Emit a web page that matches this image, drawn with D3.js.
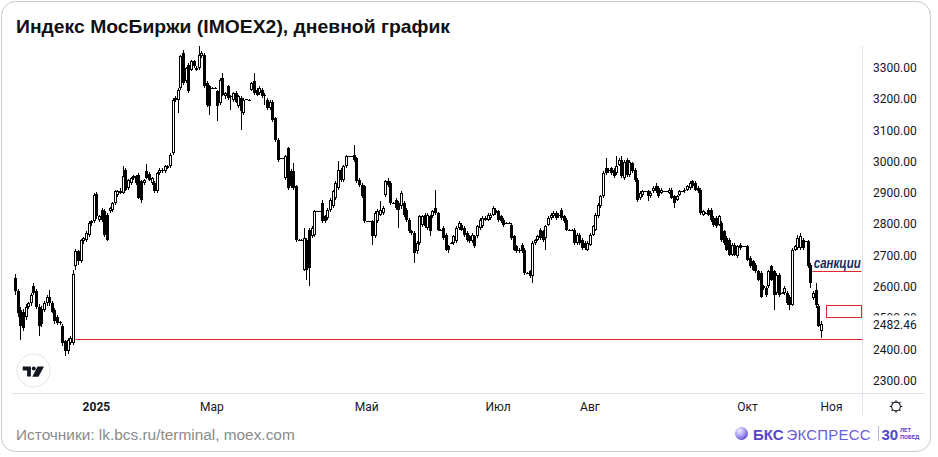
<!DOCTYPE html>
<html>
<head>
<meta charset="utf-8">
<script src="https://cdn.jsdelivr.net/npm/d3@7"></script>
<style>
  html, body { margin: 0; padding: 0; background: #fff; }
  svg { display: block; font-family: Roboto, "Liberation Sans", Arial, sans-serif; }
</style>
</head>
<body>
<svg id="chart" width="938" height="457"></svg>
<script>
// дневные свечи IMOEX2: [open, high, low, close]
const candles = [
  [2628,2640,2575,2585],[2585,2592,2505,2516],[2527,2535,2430,2474],[2520,2530,2460,2468],
  [2505,2545,2495,2537],[2537,2553,2530,2548],[2548,2580,2540,2575],[2601,2612,2575,2580],
  [2585,2592,2530,2537],[2537,2545,2442,2474],[2530,2538,2470,2480],[2527,2555,2520,2548],
  [2548,2575,2540,2569],[2569,2591,2540,2548],[2548,2556,2515,2521],[2527,2532,2480,2490],
  [2505,2510,2478,2484],[2484,2492,2478,2486],[2476,2482,2412,2420],[2426,2430,2378,2394],
  [2394,2436,2385,2431],[2420,2442,2415,2436],[2420,2655,2415,2641],[2665,2720,2655,2713],
  [2713,2718,2670,2681],[2681,2752,2675,2750],[2745,2760,2738,2756],[2750,2778,2744,2772],
  [2766,2810,2760,2804],[2804,2815,2795,2809],[2809,2900,2805,2894],[2897,2903,2818,2825],
  [2814,2830,2808,2825],[2846,2852,2808,2814],[2841,2848,2760,2766],[2830,2836,2745,2750],
  [2841,2856,2836,2852],[2846,2872,2840,2868],[2868,2910,2862,2905],[2894,2910,2888,2905],
  [2905,2915,2896,2900],[2900,2985,2895,2953],[2974,2980,2905,2910],[2916,2946,2910,2942],
  [2932,2952,2926,2948],[2948,2958,2942,2953],[2953,2958,2926,2932],[2958,2962,2880,2884],
  [2937,2942,2868,2878],[2932,2946,2926,2942],[2969,2993,2944,2948],[2960,2966,2938,2942],
  [2932,2952,2926,2948],[2932,2938,2900,2905],[2905,2967,2900,2963],[2963,2978,2958,2974],
  [2974,2980,2962,2969],[2969,2990,2964,2985],[2979,2990,2975,2985],[2985,3026,2980,3022],
  [3027,3203,3022,3198],[3198,3208,3192,3203],[3198,3234,3155,3230],[3235,3340,3230,3336],
  [3347,3357,3245,3251],[3256,3303,3250,3299],[3310,3316,3218,3224],[3294,3326,3288,3320],
  [3320,3326,3300,3305],[3294,3304,3288,3299],[3299,3370,3294,3342],[3336,3352,3330,3347],
  [3342,3348,3236,3240],[3251,3256,3176,3182],[3240,3245,3150,3177],[3235,3238,3233,3236],
  [3236,3238,3233,3235],[3224,3230,3129,3177],[3187,3266,3180,3262],[3267,3283,3210,3214],
  [3208,3223,3200,3219],[3240,3245,3198,3203],[3208,3212,3166,3209],[3198,3223,3192,3219],
  [3219,3225,3186,3192],[3177,3212,3172,3208],[3203,3208,3102,3161],[3155,3202,3150,3198],
  [3198,3200,3196,3199],[3198,3200,3195,3197],[3230,3255,3226,3251],[3256,3283,3214,3219],
  [3230,3236,3209,3214],[3219,3240,3214,3235],[3230,3236,3203,3208],[3214,3218,3182,3213],
  [3198,3202,3166,3171],[3171,3197,3166,3192],[3192,3196,3128,3134],[3139,3143,3064,3070],
  [3070,3075,3000,3006],[3011,3013,3009,3012],[3011,3013,3008,3010],[2948,3022,2942,3017],
  [3043,3048,2910,2916],[2969,2975,2915,2921],[2969,2995,2910,2916],[2921,2926,2744,2750],
  [2750,2753,2748,2751],[2751,2753,2748,2750],[2655,2787,2650,2756],[2750,2756,2623,2655],
  [2782,2788,2601,2660],[2761,2794,2756,2788],[2766,2846,2760,2841],[2841,2843,2839,2842],
  [2841,2843,2838,2840],[2868,2878,2803,2809],[2825,2830,2803,2809],[2820,2851,2815,2846],
  [2846,2883,2840,2878],[2857,2910,2852,2905],[2884,2937,2878,2932],[2916,3001,2910,2974],
  [2974,2980,2936,2942],[2942,2990,2936,2985],[2985,3022,2980,3017],[3017,3019,3015,3018],
  [3017,3019,3014,3016],[3022,3054,3000,3006],[3011,3016,2931,2937],[2942,2948,2920,2926],
  [2926,2931,2883,2889],[2921,2926,2803,2809],[2809,2811,2807,2810],[2809,2811,2806,2808],
  [2809,2814,2734,2761],[2761,2842,2755,2836],[2809,2847,2803,2841],[2830,2873,2825,2846],
  [2836,2858,2830,2852],[2894,2942,2888,2937],[2937,2948,2920,2926],[2932,2938,2862,2868],
  [2868,2870,2866,2869],[2878,2884,2846,2852],[2868,2874,2788,2846],[2857,2906,2850,2900],
  [2868,2874,2824,2830],[2846,2852,2808,2814],[2814,2820,2771,2777],[2777,2782,2766,2772],
  [2772,2778,2676,2708],[2713,2745,2705,2740],[2740,2830,2735,2825],[2798,2830,2792,2825],
  [2830,2836,2788,2793],[2788,2836,2782,2830],[2825,2830,2761,2777],[2825,2846,2820,2841],
  [2852,2910,2830,2836],[2836,2840,2778,2782],[2782,2784,2780,2783],[2788,2794,2750,2756],
  [2766,2772,2713,2719],[2729,2735,2708,2719],[2740,2742,2738,2741],[2740,2766,2735,2761],
  [2745,2793,2740,2788],[2788,2809,2783,2804],[2798,2804,2777,2782],[2788,2793,2760,2766],
  [2772,2777,2744,2750],[2761,2766,2740,2745],[2745,2772,2740,2766],[2761,2766,2724,2729],
  [2761,2798,2756,2793],[2788,2819,2783,2814],[2793,2825,2788,2820],[2814,2825,2809,2820],
  [2814,2836,2809,2830],[2820,2835,2815,2830],[2830,2858,2825,2852],[2846,2852,2830,2836],
  [2841,2846,2808,2814],[2825,2830,2803,2809],[2814,2820,2792,2798],[2804,2806,2802,2805],
  [2804,2806,2801,2803],[2798,2804,2750,2756],[2761,2766,2713,2719],[2729,2735,2708,2713],
  [2713,2724,2708,2719],[2735,2740,2708,2713],[2719,2724,2638,2644],[2644,2646,2642,2645],
  [2649,2654,2628,2633],[2633,2745,2612,2740],[2740,2753,2735,2750],[2750,2766,2745,2761],
  [2782,2788,2750,2756],[2777,2782,2744,2750],[2756,2798,2719,2793],[2798,2825,2793,2820],
  [2820,2835,2815,2830],[2825,2841,2820,2836],[2836,2841,2815,2820],[2825,2835,2820,2830],
  [2846,2852,2815,2820],[2825,2830,2803,2809],[2814,2820,2777,2782],[2782,2784,2780,2783],
  [2782,2784,2779,2781],[2782,2787,2735,2740],[2740,2771,2735,2766],[2766,2771,2735,2740],
  [2750,2756,2719,2724],[2740,2745,2719,2724],[2719,2745,2714,2740],[2735,2771,2730,2766],
  [2766,2798,2761,2793],[2782,2835,2777,2830],[2825,2868,2820,2862],[2857,2894,2852,2889],
  [2889,2969,2884,2964],[2979,3011,2958,2964],[2969,2979,2964,2974],[2979,2984,2958,2964],
  [2974,2979,2948,2953],[2964,3017,2958,2985],[2990,3011,2985,3006],[3006,3017,2948,2953],
  [2948,3005,2940,3000],[3006,3012,2952,2958],[2958,3006,2950,3000],[2995,3000,2964,2969],
  [2974,2979,2936,2942],[2942,2948,2872,2878],[2884,2905,2878,2900],[2894,2910,2888,2905],
  [2905,2907,2903,2906],[2905,2910,2873,2889],[2889,2905,2884,2900],[2905,2921,2900,2916],
  [2921,2932,2900,2905],[2916,2921,2884,2889],[2900,2915,2895,2910],[2905,2907,2903,2906],
  [2905,2907,2902,2904],[2900,2915,2895,2910],[2910,2915,2879,2884],[2889,2894,2852,2868],
  [2878,2894,2873,2889],[2894,2910,2889,2905],[2905,2907,2903,2906],[2905,2915,2900,2910],
  [2910,2926,2905,2921],[2916,2937,2910,2932],[2937,2942,2915,2921],[2932,2937,2905,2910],
  [2916,2921,2900,2905],[2910,2915,2830,2836],[2830,2846,2825,2841],[2836,2838,2834,2837],
  [2846,2852,2825,2830],[2846,2852,2808,2814],[2820,2825,2792,2798],[2820,2825,2787,2793],
  [2798,2830,2793,2825],[2804,2810,2744,2750],[2777,2782,2734,2740],[2756,2761,2713,2719],
  [2750,2756,2697,2703],[2703,2740,2697,2735],[2735,2740,2697,2703],[2697,2735,2692,2729],
  [2735,2740,2719,2724],[2729,2731,2727,2730],[2729,2731,2726,2728],[2729,2735,2681,2687],
  [2692,2697,2660,2665],[2681,2686,2649,2655],[2671,2676,2644,2649],[2649,2655,2617,2623],
  [2644,2649,2564,2569],[2596,2606,2591,2601],[2596,2601,2569,2575],[2601,2655,2596,2649],
  [2665,2671,2617,2623],[2649,2655,2527,2575],[2580,2644,2575,2639],[2639,2644,2569,2575],
  [2580,2582,2578,2581],[2580,2601,2575,2596],[2580,2585,2543,2548],[2569,2575,2527,2543],
  [2543,2724,2538,2719],[2719,2735,2714,2729],[2724,2766,2719,2756],[2724,2771,2719,2761],
  [2750,2756,2719,2724],[2745,2747,2743,2746],[2745,2750,2660,2665],[2671,2676,2596,2612],
  [2564,2585,2559,2580],[2591,2612,2533,2543],[2540,2545,2470,2475],[2458,2490,2436,2482.46]
]

const priceTicks = [2300, 2400, 2500, 2600, 2700, 2800, 2900, 3000, 3100, 3200, 3300]
const monthLabels = ['2025', 'Мар', 'Май', 'Июл', 'Авг', 'Окт', 'Ноя']
const monthBar = [31, 75, 134, 184, 219, 279, 311]   // номер свечи, с которой начинается месяц
const lastPrice = 2482.46
const supportLevel = 2434
const supportFrom = 23
const sanctionsLevel = 2650
const sanctionsFrom = 303.7
const zoneHigh = 2541
const zoneLow = 2503
const zoneFrom = 309

const svg = d3.select('#chart')
const axisRight = 862.5
const axisBottom = 393.5

const x = d3.scaleLinear().domain([0, candles.length - 1]).range([15, 821])
const y = d3.scaleLinear().domain([2300, 3300]).range([380.7, 67.7])

// карточка
svg.append('rect')
  .attr('x', 1.5).attr('y', 1.5)
  .attr('width', 929).attr('height', 450)
  .attr('rx', 14)
  .attr('fill', '#fff')
  .attr('stroke', '#c9c9c9')

svg.append('text')
  .attr('x', 16).attr('y', 33)
  .attr('font-size', 18.5).attr('font-weight', 'bold')
  .attr('font-family', '"Liberation Sans", Arial, sans-serif')
  .attr('textLength', 434).attr('lengthAdjust', 'spacingAndGlyphs')
  .attr('fill', '#111')
  .text('Индекс МосБиржи (IMOEX2), дневной график')

// оси
svg.append('line')
  .attr('x1', axisRight).attr('x2', axisRight)
  .attr('y1', 46).attr('y2', 415)
  .attr('stroke', '#e0e3eb')
svg.append('line')
  .attr('x1', 12).attr('x2', 925)
  .attr('y1', axisBottom).attr('y2', axisBottom)
  .attr('stroke', '#e0e3eb')

// подпись 2500 наполовину закрыта меткой последней цены, как на терминале
const priceClip = svg.append('defs').append('clipPath').attr('id', 'priceClip')
priceClip.append('rect')
  .attr('x', 864).attr('y', 40)
  .attr('width', 70).attr('height', y(lastPrice) - 8 - 40)
priceClip.append('rect')
  .attr('x', 864).attr('y', y(lastPrice) + 8)
  .attr('width', 70).attr('height', 400 - y(lastPrice) - 8)

svg.append('g').attr('clip-path', 'url(#priceClip)')
  .selectAll('text')
  .data(priceTicks)
  .join('text')
  .attr('x', 873)
  .attr('y', d => y(d))
  .attr('dy', '0.35em')
  .attr('font-size', 12)
  .attr('fill', '#131722')
  .text(d => d3.format('.2f')(d))

svg.append('g').selectAll('text')
  .data(monthLabels)
  .join('text')
  .attr('x', (d, i) => x(monthBar[i]))
  .attr('y', 411)
  .attr('text-anchor', 'middle')
  .attr('font-size', 12)
  .attr('font-weight', (d, i) => (i === 0 ? 'bold' : 'normal'))
  .attr('fill', '#131722')
  .text(d => d)

// свечи
const candleLayer = svg.append('g').attr('shape-rendering', 'crispEdges')
const bars = candleLayer.selectAll('g')
  .data(candles)
  .join('g')
  .attr('transform', (d, i) => `translate(${Math.round(x(i))},0)`)

bars.append('line')
  .attr('x1', 0.5).attr('x2', 0.5)
  .attr('y1', d => Math.round(y(d[1])))
  .attr('y2', d => Math.round(y(d[2])))
  .attr('stroke', '#000')

const bodyTop = d => Math.round(y(Math.max(d[0], d[3])))
const bodyH = d => Math.max(1, Math.round(y(Math.min(d[0], d[3]))) - bodyTop(d))

bars.append('rect')
  .attr('x', -1).attr('width', 3)
  .attr('y', bodyTop)
  .attr('height', bodyH)
  .attr('fill', '#000')

bars.filter(d => d[3] > d[0] && bodyH(d) > 2)
  .append('rect')
  .attr('x', 0).attr('width', 1)
  .attr('y', d => bodyTop(d) + 1)
  .attr('height', d => bodyH(d) - 2)
  .attr('fill', '#fff')

// разметка
const red = '#e2262b'
svg.append('line')
  .attr('x1', x(supportFrom)).attr('x2', axisRight)
  .attr('y1', Math.round(y(supportLevel)) + 0.5).attr('y2', Math.round(y(supportLevel)) + 0.5)
  .attr('stroke', red).attr('stroke-width', 1.2)

svg.append('line')
  .attr('x1', x(sanctionsFrom)).attr('x2', axisRight - 1)
  .attr('y1', Math.round(y(sanctionsLevel)) + 0.5).attr('y2', Math.round(y(sanctionsLevel)) + 0.5)
  .attr('stroke', red).attr('stroke-width', 1.2)

svg.append('text')
  .attr('x', x(sanctionsFrom) + 1.5)
  .attr('y', y(sanctionsLevel) - 3)
  .attr('font-size', 14.5).attr('font-style', 'italic').attr('font-weight', 'bold')
  .attr('font-family', '"Liberation Sans", Arial, sans-serif')
  .attr('textLength', 47).attr('lengthAdjust', 'spacingAndGlyphs')
  .attr('fill', '#1c2b5c')
  .text('санкции')

svg.append('rect')
  .attr('x', Math.round(x(zoneFrom)) + 0.5)
  .attr('y', Math.round(y(zoneHigh)) + 0.5)
  .attr('width', axisRight - 1 - Math.round(x(zoneFrom)) - 0.5)
  .attr('height', Math.round(y(zoneLow)) - Math.round(y(zoneHigh)))
  .attr('fill', 'none')
  .attr('stroke', red)

// метка последней цены
svg.append('text')
  .attr('x', 873).attr('y', y(lastPrice) + 1)
  .attr('dy', '0.35em')
  .attr('font-size', 12)
  .attr('fill', '#131722')
  .text(d3.format('.2f')(lastPrice))

// логотип TradingView
const tv = svg.append('g').attr('transform', 'translate(33.5,370.5)')
tv.append('circle').attr('r', 16.5).attr('fill', '#fff').attr('stroke', '#e0e3eb')
tv.append('path')
  .attr('d', 'M-10.8,-4 H-2.6 V6 H-6.4 V0 H-10.8 Z')
  .attr('fill', '#131722')
tv.append('circle').attr('cx', 0.3).attr('cy', -1.9).attr('r', 2).attr('fill', '#131722')
tv.append('path')
  .attr('d', 'M4,-4 H10.5 L5,6.2 H-1.2 Z')
  .attr('fill', '#131722')

// шестерёнка
const gear = svg.append('g').attr('transform', 'translate(896,406.5)')
gear.append('circle').attr('r', 4.4).attr('fill', 'none').attr('stroke', '#131722').attr('stroke-width', 1.1)
gear.selectAll('line')
  .data(d3.range(8))
  .join('line')
  .attr('x1', d => 4.4 * Math.cos(d * Math.PI / 4))
  .attr('y1', d => 4.4 * Math.sin(d * Math.PI / 4))
  .attr('x2', d => 6.3 * Math.cos(d * Math.PI / 4))
  .attr('y2', d => 6.3 * Math.sin(d * Math.PI / 4))
  .attr('stroke', '#131722').attr('stroke-width', 1.1)

// источник
svg.append('text')
  .attr('x', 16).attr('y', 440)
  .attr('font-size', 15.4)
  .attr('font-family', '"Liberation Sans", Arial, sans-serif')
  .attr('fill', '#8b8b8b')
  .text('Источники: lk.bcs.ru/terminal, moex.com')

// логотип БКС Экспресс
const defs = svg.append('defs')
const grad = defs.append('radialGradient').attr('id', 'bksBall')
  .attr('cx', '35%').attr('cy', '30%').attr('r', '75%')
grad.append('stop').attr('offset', '0%').attr('stop-color', '#f1eeff')
grad.append('stop').attr('offset', '55%').attr('stop-color', '#a79cf0')
grad.append('stop').attr('offset', '100%').attr('stop-color', '#5a49cf')
svg.append('circle').attr('cx', 741.5).attr('cy', 433.5).attr('r', 6.5).attr('fill', 'url(#bksBall)')

const bks = svg.append('text')
  .attr('x', 753).attr('y', 439.5)
  .attr('font-size', 15)
  .attr('font-family', '"Liberation Sans", Arial, sans-serif')
bks.append('tspan').attr('font-weight', 'bold').attr('fill', '#5646c9').text('БКС')
bks.append('tspan').attr('dx', 3).attr('fill', '#6a5dd6')
  .attr('textLength', 84).attr('lengthAdjust', 'spacing')
  .text('ЭКСПРЕСС')

svg.append('line')
  .attr('x1', 878.5).attr('x2', 878.5).attr('y1', 426).attr('y2', 441)
  .attr('stroke', '#b7b0ea')
svg.append('text')
  .attr('x', 881.5).attr('y', 439.5)
  .attr('font-size', 15).attr('font-weight', 'bold')
  .attr('font-family', '"Liberation Sans", Arial, sans-serif')
  .attr('fill', '#5646c9')
  .text('30')
svg.append('text')
  .attr('x', 900).attr('y', 432)
  .attr('font-size', 5.8).attr('font-weight', 'bold')
  .attr('fill', '#5646c9')
  .text('ЛЕТ')
svg.append('text')
  .attr('x', 900).attr('y', 438.5)
  .attr('font-size', 5.8).attr('font-weight', 'bold')
  .attr('fill', '#5646c9')
  .text('ПОБЕД')
</script>
</body>
</html>
